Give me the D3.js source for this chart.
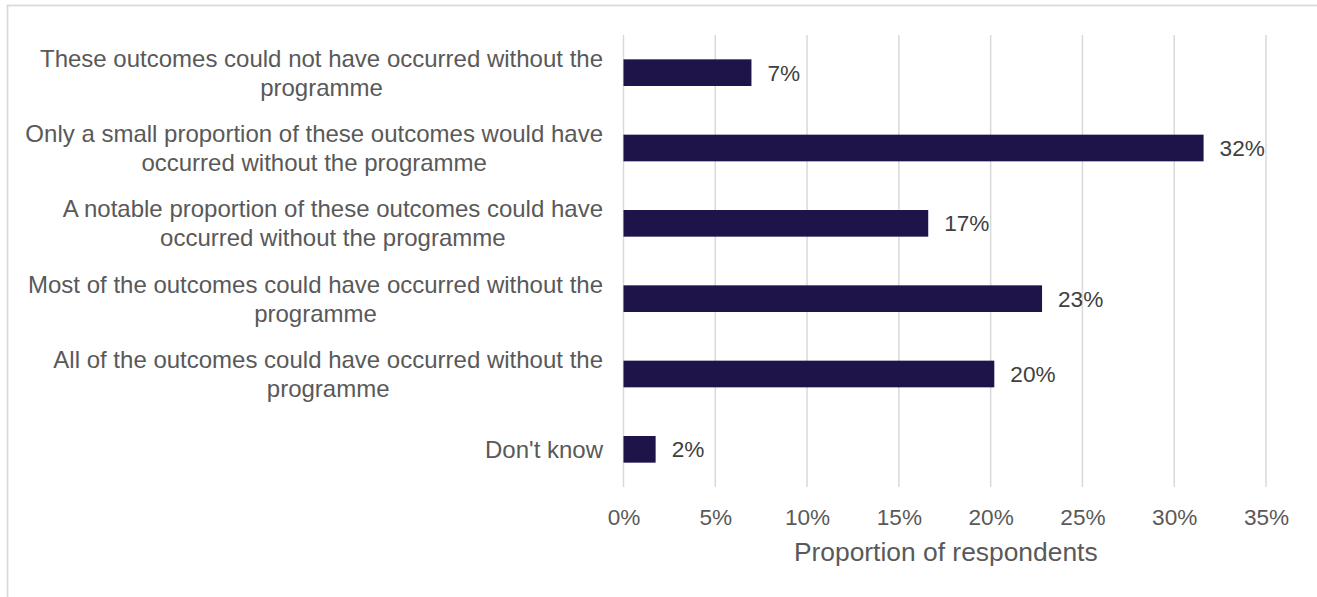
<!DOCTYPE html>
<html>
<head>
<meta charset="utf-8">
<script src="https://cdn.jsdelivr.net/npm/d3@7"></script>
<style>
  html, body { margin: 0; padding: 0; background: #ffffff; }
  svg { display: block; font-family: "Liberation Sans", Arial, sans-serif; }
</style>
</head>
<body>
<svg id="chart" width="1317" height="597"></svg>
<script>
// Survey answers, top to bottom, with the line breaks used in the labels
const categories = [
  "These outcomes could not have occurred without the\nprogramme",
  "Only a small proportion of these outcomes would have\noccurred without the programme",
  "A notable proportion of these outcomes could have\noccurred without the programme",
  "Most of the outcomes could have occurred without the\nprogramme",
  "All of the outcomes could have occurred without the\nprogramme",
  "Don't know"
];
// Share of respondents (%) for each answer
const shares = [6.97, 31.6, 16.6, 22.8, 20.2, 1.75];
// Axis ticks (%)
const xTicks = [0, 5, 10, 15, 20, 25, 30, 35];
const xTitle = "Proportion of respondents";

const svg = d3.select("#chart");
const plot = { left: 623.5, right: 1266, top: 35, bottom: 487 };

// Outer chart frame (only its top and left edges fall inside the page)
svg.append("rect")
  .attr("x", 7.5).attr("y", 5.5)
  .attr("width", 1400).attr("height", 700)
  .attr("fill", "none").attr("stroke", "#d9d9d9").attr("stroke-width", 1.75);

const x = d3.scaleLinear().domain([0, 35]).range([plot.left, plot.right]);
const y = d3.scaleBand().domain(categories).range([plot.top, plot.bottom]).paddingInner(0.646).paddingOuter(0.323);

// Vertical gridlines
svg.append("g")
  .selectAll("line")
  .data(xTicks)
  .join("line")
  .attr("x1", d => x(d)).attr("x2", d => x(d))
  .attr("y1", plot.top).attr("y2", plot.bottom)
  .attr("stroke", "#d9d9d9").attr("stroke-width", 1.5);

// Bottom axis: labels only
const xAxis = svg.append("g")
  .attr("transform", `translate(0,${plot.bottom})`)
  .call(d3.axisBottom(x).tickValues(xTicks).tickSize(0).tickPadding(0).tickFormat(d => d + "%"));
xAxis.select(".domain").remove();
xAxis.selectAll("text")
  .attr("y", 30).attr("dy", "0.35em")
  .attr("fill", "#595959")
  .style("font-size", "22.6px")
  .style("font-family", "'Liberation Sans', Arial, sans-serif");

// Axis title
svg.append("text")
  .attr("x", (plot.left + plot.right) / 2 + 1)
  .attr("y", 552).attr("dy", "0.35em")
  .attr("text-anchor", "middle")
  .attr("fill", "#595959")
  .style("font-size", "26.4px")
  .text(xTitle);

// Bars
const bandMid = d => y(d) + y.bandwidth() / 2;
svg.append("g")
  .selectAll("rect")
  .data(categories.map((c, i) => ({ c, v: shares[i] })))
  .join("rect")
  .attr("x", x(0))
  .attr("y", d => y(d.c))
  .attr("width", d => x(d.v) - x(0))
  .attr("height", y.bandwidth())
  .attr("fill", "#1e1449");

// Value labels
const pct = d3.format(".0f");
svg.append("g")
  .selectAll("text")
  .data(categories.map((c, i) => ({ c, v: shares[i] })))
  .join("text")
  .attr("x", d => x(d.v) + 16)
  .attr("y", d => bandMid(d.c))
  .attr("dy", "0.35em")
  .attr("fill", "#404040")
  .style("font-size", "22.6px")
  .text(d => pct(d.v) + "%");

// Category labels: block right-aligned to the axis, lines centred within the block
const labelRight = 603;
const lineGap = 29;
const labels = svg.append("g").style("font-size", "24px").attr("fill", "#595959");
categories.forEach(c => {
  const lines = c.split("\n");
  const g = labels.append("g");
  const texts = lines.map((ln, i) => g.append("text")
    .attr("y", bandMid(c) + (i - (lines.length - 1) / 2) * lineGap)
    .attr("dy", "0.35em")
    .attr("text-anchor", "middle")
    .text(ln));
  const w = d3.max(texts, t => t.node().getComputedTextLength());
  texts.forEach(t => t.attr("x", labelRight - w / 2));
});
</script>
</body>
</html>
